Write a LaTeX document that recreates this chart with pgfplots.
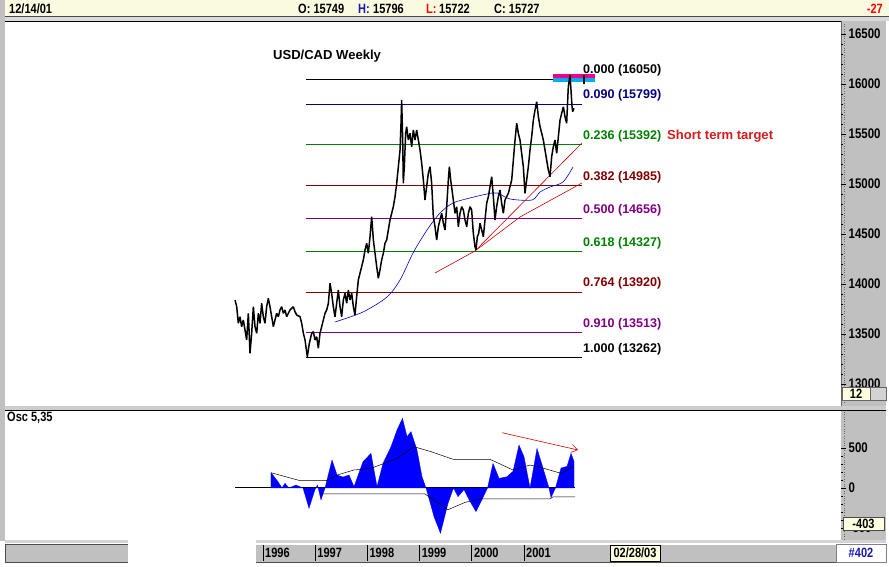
\documentclass[border=0pt]{standalone}
\usepackage{fontspec}
\setmainfont{Liberation Sans}
\newfontfamily\nf[FakeStretch=0.82]{Liberation Sans}
\usepackage{pgfplots}
\pgfplotsset{compat=1.18}
\usetikzlibrary{arrows.meta}
\definecolor{hdr}{HTML}{FAFAE0}
\definecolor{gry}{HTML}{C0C0C0}
\definecolor{navyc}{HTML}{000080}
\definecolor{greenc}{HTML}{008000}
\definecolor{maroonc}{HTML}{800000}
\definecolor{purplec}{HTML}{800080}
\definecolor{oscblue}{HTML}{0000FF}
\definecolor{redt}{HTML}{D41C1C}
\definecolor{boxy}{HTML}{FFFFE0}
\definecolor{hblue}{HTML}{1A1AB0}
\newcommand{\nff}{\nf\bfseries\fontsize{13.5}{13.5}\selectfont}
\newcommand{\sff}{\nf\bfseries\fontsize{14}{14}\selectfont}
\newcommand{\bff}{\bfseries\fontsize{13.1}{13.1}\selectfont}
\newcommand{\fff}{\bfseries\fontsize{12.6}{12.6}\selectfont}
\pgfplotsset{every axis/.append style={scale only axis, anchor=south west, scaled ticks=false,
  xmin=1991.0575, xmax=2007.0728, width=836bp}}
\begin{document}
\begin{tikzpicture}
\begin{scope}[x=1bp,y=1bp]
\path (0,0) rectangle (889,567);
\fill[white] (0,0) rectangle (889,567);
\fill[gry] (0,26) rectangle (5,567);
% header
\fill[hdr] (5,551) rectangle (889,567);
\draw[black!70] (5,550.5) -- (889,550.5);
\fill[gry!60] (5,546) rectangle (889,550);
\draw[black, line width=1bp] (5,545.5) -- (841,545.5);
% price strip
\fill[gry] (841,161) rectangle (886,546);
\draw[black!60] (841,161) -- (841,546);
\draw[black!60, dotted] (844,165) -- (844,545);
% separator
\fill[gry!80] (5,157) rectangle (886,161);
\draw[black, line width=1bp] (5,156) -- (886,156);
% osc strip
\fill[gry] (841,27) rectangle (886,155.5);
\draw[black!60, dotted] (844,28) -- (844,155);
% bottom
\fill[gry!70] (5,24) rectangle (886,27);
\fill[gry] (5,5) rectangle (128,23);
\draw[black!70] (5,5) rectangle (128,23);
\fill[white] (128,0) rectangle (256,28);
\fill[gry] (256,5) rectangle (836,23);
\draw[black!70] (256,5) -- (836,5);
\draw[white] (256,23) -- (836,23);
\fill[white] (836,5) rectangle (886,23);
\draw[black!50] (836,5) rectangle (886,23);
\end{scope}

% ---------------- main price axis
\begin{axis}[at={(5bp,161bp)}, height=384bp,
  ymin=12780, ymax=16620,
  hide x axis, axis line style={draw=none}, clip=false,
  ytick={13000,13500,14000,14500,15000,15500,16000,16500},
  yticklabels={13000,13500,14000,14500,15000,15500,16000,16500},
  ytick pos=right, yticklabel pos=right, tick align=outside,
  major tick length=5bp, minor y tick num=4, minor tick length=2bp,
  tick style={black, line width=0.6bp},
  yticklabel style={font=\sff, inner sep=0pt, xshift=2.5bp}]
% fib lines
\addplot[black, line width=0.6bp] coordinates {(1996.824,16050) (2002.111,16050)};
\addplot[navyc, line width=0.6bp] coordinates {(1996.824,15799) (2002.111,15799)};
\addplot[greenc, line width=0.6bp] coordinates {(1996.824,15392) (2002.111,15392)};
\addplot[maroonc, line width=0.6bp] coordinates {(1996.824,14985) (2002.111,14985)};
\addplot[purplec, line width=0.6bp] coordinates {(1996.824,14656) (2002.111,14656)};
\addplot[greenc, line width=0.6bp] coordinates {(1996.824,14327) (2002.111,14327)};
\addplot[maroonc, line width=0.6bp] coordinates {(1996.824,13920) (2002.111,13920)};
\addplot[purplec, line width=0.6bp] coordinates {(1996.824,13513) (2002.111,13513)};
\addplot[black, line width=0.6bp] coordinates {(1996.824,13262) (2002.111,13262)};
% highlight box
\addplot[fill=magenta, draw=none] coordinates {(2001.556,16063) (2002.360,16063) (2002.360,16100) (2001.556,16100)} -- cycle;
\addplot[fill=cyan, draw=none] coordinates {(2001.556,16017) (2002.360,16017) (2002.360,16063) (2001.556,16063)} -- cycle;
% moving average
\addplot[blue!80!black, line width=0.6bp, smooth] coordinates {
(1997.379,13620) (1997.916,13720) (1998.375,13870) (1998.625,14040) (1998.874,14310)
(1999.142,14540) (1999.391,14710) (1999.640,14810) (1999.966,14860) (2000.291,14900)
(2000.483,14910) (2000.732,14850) (2001.153,14840) (2001.307,14920) (2001.498,14970)
(2001.747,15020) (2001.939,15170)};
% trend lines
\addplot[red!80!black, line width=0.6bp] coordinates {(2000.061,14330) (2002.111,15410)};
\addplot[red!80!black, line width=0.6bp] coordinates {(1999.295,14110) (2000.061,14330) (2000.923,14670) (2002.111,15010)};
% price (weekly)
\addplot[black, line width=1.5bp, line join=bevel] coordinates {
(1995.464,13840) (1995.496,13773) (1995.527,13607) (1995.559,13673) (1995.591,13573)
(1995.623,13640) (1995.655,13540) (1995.687,13440) (1995.719,13707) (1995.751,13307)
(1995.783,13507) (1995.815,13773) (1995.847,13573) (1995.879,13507) (1995.911,13707)
(1995.943,13607) (1995.974,13807) (1996.006,13673) (1996.038,13607) (1996.070,13773)
(1996.102,13857) (1996.134,13773) (1996.166,13673) (1996.198,13573) (1996.230,13640)
(1996.262,13707) (1996.294,13673) (1996.326,13740) (1996.358,13773) (1996.390,13707)
(1996.421,13740) (1996.453,13673) (1996.517,13740) (1996.581,13773) (1996.613,13723)
(1996.645,13690) (1996.709,13673) (1996.741,13607) (1996.773,13507) (1996.805,13440)
(1996.849,13273) (1996.888,13407) (1996.932,13507) (1996.964,13523) (1996.996,13440)
(1997.028,13473) (1997.060,13357) (1997.092,13507) (1997.124,13573) (1997.156,13640)
(1997.188,13707) (1997.220,13740) (1997.252,13807) (1997.284,14007) (1997.315,13907)
(1997.347,13773) (1997.379,13673) (1997.411,13807) (1997.443,13940) (1997.475,13773)
(1997.507,13673) (1997.539,13840) (1997.571,13907) (1997.603,13807) (1997.635,13940)
(1997.667,13840) (1997.699,13907) (1997.731,13773) (1997.762,13690) (1997.794,13873)
(1997.826,14040) (1997.858,14107) (1997.890,14173) (1997.922,14240) (1997.954,14340)
(1997.986,14407) (1998.018,14307) (1998.050,14473) (1998.082,14673) (1998.114,14440)
(1998.146,14307) (1998.178,14173) (1998.209,14057) (1998.241,14140) (1998.273,14240)
(1998.305,14307) (1998.337,14407) (1998.369,14440) (1998.401,14540) (1998.433,14640)
(1998.465,14707) (1998.497,14773) (1998.529,14873) (1998.561,15007) (1998.593,15173)
(1998.625,15340) (1998.644,15607) (1998.656,15840) (1998.676,15440) (1998.688,15007)
(1998.707,15173) (1998.733,15507) (1998.752,15573) (1998.784,15440) (1998.816,15507)
(1998.848,15373) (1998.880,15540) (1998.912,15440) (1998.944,15540) (1998.976,15440)
(1999.008,15340) (1999.040,15207) (1999.072,15040) (1999.103,14840) (1999.135,14973)
(1999.167,15107) (1999.199,15173) (1999.231,15007) (1999.263,14673) (1999.295,14573)
(1999.327,14440) (1999.359,14573) (1999.391,14640) (1999.423,14707) (1999.455,14607)
(1999.487,14540) (1999.519,14773) (1999.550,15040) (1999.570,15173) (1999.595,15040)
(1999.621,14940) (1999.646,14840) (1999.678,14707) (1999.710,14773) (1999.742,14573)
(1999.774,14707) (1999.806,14773) (1999.838,14740) (1999.870,14640) (1999.902,14573)
(1999.934,14707) (1999.966,14773) (1999.997,14740) (2000.029,14507) (2000.061,14373)
(2000.080,14340) (2000.106,14473) (2000.132,14507) (2000.157,14607) (2000.189,14540)
(2000.221,14473) (2000.253,14640) (2000.285,14807) (2000.317,14873) (2000.349,14973)
(2000.381,15073) (2000.413,14873) (2000.444,14640) (2000.476,14773) (2000.508,14873)
(2000.540,14940) (2000.572,14807) (2000.604,14707) (2000.636,14840) (2000.668,14873)
(2000.700,14907) (2000.732,14973) (2000.764,15040) (2000.796,15240) (2000.828,15440)
(2000.860,15607) (2000.891,15507) (2000.923,15440) (2000.955,15307) (2000.987,15173)
(2001.019,14907) (2001.051,15040) (2001.083,15173) (2001.115,15340) (2001.147,15473)
(2001.179,15640) (2001.211,15740) (2001.243,15823) (2001.275,15673) (2001.307,15573)
(2001.339,15507) (2001.370,15440) (2001.402,15340) (2001.434,15240) (2001.466,15140)
(2001.498,15073) (2001.530,15273) (2001.562,15373) (2001.594,15440) (2001.626,15307)
(2001.658,15473) (2001.690,15640) (2001.722,15707) (2001.754,15773) (2001.785,15673)
(2001.817,15607) (2001.837,15840) (2001.849,15973) (2001.868,16040) (2001.881,16090)
(2001.900,15940) (2001.920,15773) (2001.932,15723) (2001.958,15757)};
\addplot[black, line width=1.6bp] coordinates {(2002.15,16000) (2002.15,16090)};
% labels
\node[anchor=west, font=\fff, inner sep=0pt] at (axis cs:2002.13,16135) {0.000 (16050)};
\node[anchor=west, font=\fff, inner sep=0pt, text=navyc] at (axis cs:2002.13,15884) {0.090 (15799)};
\node[anchor=west, font=\fff, inner sep=0pt, text=greenc] at (axis cs:2002.13,15477) {0.236 (15392)};
\node[anchor=west, font=\fff, inner sep=0pt, text=maroonc] at (axis cs:2002.13,15070) {0.382 (14985)};
\node[anchor=west, font=\fff, inner sep=0pt, text=purplec] at (axis cs:2002.13,14741) {0.500 (14656)};
\node[anchor=west, font=\fff, inner sep=0pt, text=greenc] at (axis cs:2002.13,14412) {0.618 (14327)};
\node[anchor=west, font=\fff, inner sep=0pt, text=maroonc] at (axis cs:2002.13,14005) {0.764 (13920)};
\node[anchor=west, font=\fff, inner sep=0pt, text=purplec] at (axis cs:2002.13,13598) {0.910 (13513)};
\node[anchor=west, font=\fff, inner sep=0pt] at (axis cs:2002.13,13347) {1.000 (13262)};
\node[anchor=west, font=\bff, inner sep=0pt, text=redt] at (axis cs:2003.74,15480) {Short term target};
\node[anchor=west, font=\bff, inner sep=0pt] at (axis cs:1996.19,16280) {USD/CAD Weekly};
\end{axis}

% ---------------- oscillator axis
\begin{axis}[at={(5bp,27bp)}, height=129bp,
  ymin=-650, ymax=962.5,
  hide x axis, axis line style={draw=none}, clip=false,
  ytick={-500,0,500}, yticklabels={-500,0,500},
  ytick pos=right, yticklabel pos=right, tick align=outside,
  major tick length=5bp, minor y tick num=4, minor tick length=2bp,
  tick style={black, line width=0.6bp},
  yticklabel style={font=\sff, inner sep=0pt, xshift=2.5bp}]
\addplot[black, line width=1bp] coordinates {(1995.464,0) (2001.977,0)};
\addplot[fill=oscblue, draw=oscblue, line width=0.3bp] coordinates {
(1996.153,0) (1996.153,191) (1996.287,79) (1996.364,0) (1996.421,58) (1996.498,0)
(1996.632,37) (1996.766,0) (1996.881,-254) (1996.996,-20) (1997.044,37) (1997.111,-150)
(1997.188,0) (1997.322,350) (1997.418,162) (1997.533,137) (1997.648,162) (1997.743,17)
(1997.916,329) (1998.069,433) (1998.184,17) (1998.299,308) (1998.452,516) (1998.567,725)
(1998.672,871) (1998.759,641) (1998.835,704) (1998.950,475) (1999.046,141) (1999.123,0)
(1999.276,-358) (1999.400,-566) (1999.544,-191) (1999.649,0) (1999.736,-108) (1999.851,-20)
(1999.946,-145) (2000.080,-295) (2000.195,-145) (2000.301,0) (2000.406,308) (2000.521,120)
(2000.674,141) (2000.789,208) (2000.904,537) (2001.000,391) (2001.115,0) (2001.249,495)
(2001.364,250) (2001.479,0) (2001.517,-120) (2001.603,0) (2001.709,250) (2001.824,270)
(2001.900,433) (2001.958,333) (2001.958,0)} -- cycle;
\addplot[black, line width=0.5bp] coordinates {
(1996.153,191) (1996.709,92) (1997.207,92) (1997.418,162) (1997.743,225) (1998.069,245)
(1998.567,370) (1998.892,516) (1999.218,454) (1999.590,370) (1999.649,358) (2000.349,358)
(2000.789,225) (2001.115,287) (2001.383,245) (2001.709,183) (2001.930,266)};
\addplot[black, line width=0.5bp] coordinates {
(1997.092,-75) (1999.103,-75) (1999.544,-271) (1999.870,-180) (2000.157,-137)
(2001.498,-137) (2001.556,-110) (2001.977,-110)};
\addplot[red!85!black, line width=0.6bp, -{Straight Barb[length=6bp,width=8bp]}] coordinates {(2000.579,691) (2002.034,475)};
\end{axis}

% ---------------- date bar axis
\begin{axis}[at={(5bp,6bp)}, height=16bp,
  ymin=0, ymax=1,
  hide y axis, axis line style={draw=none},
  xtick={1996,1997,1998,1999,2000,2001},
  xticklabels={1996,1997,1998,1999,2000,2001},
  major tick length=0pt, xmajorgrids, grid style={black, line width=0.7bp},
  xticklabel style={font=\nff, anchor=west, inner sep=0pt, xshift=2bp, yshift=8bp}]
\addplot[draw=none] coordinates {(1996,0.5)};
\end{axis}

\begin{scope}[x=1bp,y=1bp]
% ---------------- text decorations
\node[anchor=west, font=\nff, inner sep=0pt] at (9,558) {12/14/01};
\node[anchor=west, font=\nff, inner sep=0pt] at (298,558) {O: 15749};
\node[anchor=west, font=\nff, inner sep=0pt, text=hblue] at (358,558) {H:};
\node[anchor=west, font=\nff, inner sep=0pt] at (373,558) {15796};
\node[anchor=west, font=\nff, inner sep=0pt, text=red] at (426,558) {L:};
\node[anchor=west, font=\nff, inner sep=0pt] at (439,558) {15722};
\node[anchor=west, font=\nff, inner sep=0pt] at (494,558) {C: 15727};
\node[anchor=east, font=\nff, inner sep=0pt, text=red] at (883,558) {-27};
\node[anchor=west, font=\nff, inner sep=0pt] at (7,149) {Osc 5,35};
% small boxes
\fill[boxy] (842,167) rectangle (870,180);
\draw[black!60] (842,167) rectangle (870,180);
\node[font=\nff, inner sep=0pt] at (856,173.5) {12};
\fill[gry!70] (870,167) rectangle (886,180);
\draw[black!60] (870,167) rectangle (886,180);
\fill[boxy] (843,37) rectangle (884,50);
\draw[black!70] (843,37) rectangle (884,50);
\node[font=\nff, inner sep=0pt] at (863.5,43.5) {-403};
\fill[boxy] (610,6) rectangle (660,22);
\draw[black] (610,6) rectangle (660,22);
\node[font=\nff, inner sep=0pt] at (635,14) {02/28/03};
\node[font=\nff, inner sep=0pt, text=hblue] at (861,14) {\#402};
\pgfresetboundingbox
\path[use as bounding box] (0,0) rectangle (889,567);
\end{scope}
\end{tikzpicture}
\end{document}
